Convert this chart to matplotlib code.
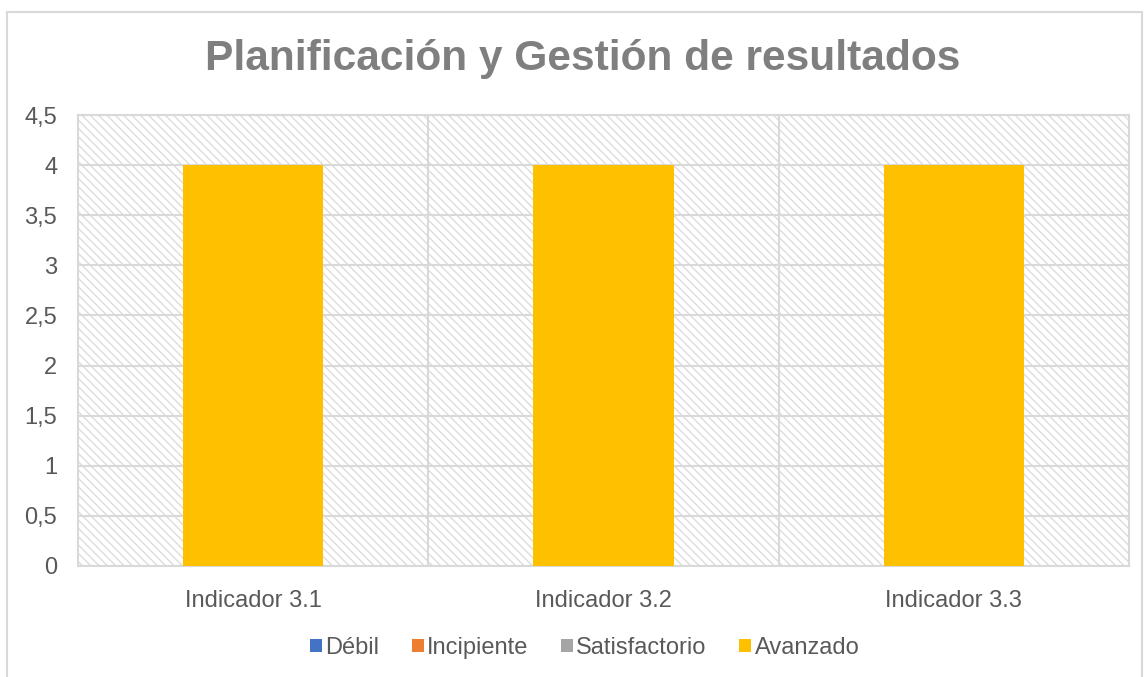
import numpy as np
import matplotlib.pyplot as plt
from matplotlib.patches import Rectangle

plt.rcParams['font.family'] = ['Liberation Sans', 'DejaVu Sans']
plt.rcParams['hatch.color'] = '#d9d9d9'
plt.rcParams['hatch.linewidth'] = 1.0

#%% Data:
categories = ["Indicador 3.1", "Indicador 3.2", "Indicador 3.3"]
series_names = ["Débil", "Incipiente", "Satisfactorio", "Avanzado"]
debil = [0, 0, 0]
incipiente = [0, 0, 0]
satisfactorio = [0, 0, 0]
avanzado = [4, 4, 4]
colors = ["#4472c4", "#ed7d31", "#a5a5a5", "#ffc000"]
yticks = [0, 0.5, 1, 1.5, 2, 2.5, 3, 3.5, 4, 4.5]
ytick_labels = ["0", "0,5", "1", "1,5", "2", "2,5", "3", "3,5", "4", "4,5"]

#%% Figure:
fig = plt.figure(figsize=(11.44, 6.77), dpi=100)
ax = fig.add_axes([0.0682, 0.164, 0.9187, 0.666])

# outer chart frame
fig.patches.append(Rectangle((7/1144, -0.05), 1135/1144, 1.05 - 12/677,
                             transform=fig.transFigure, fill=False,
                             edgecolor='#d9d9d9', linewidth=1.5))

# hatched plot background
ax.add_patch(Rectangle((0, 0), 1, 1, transform=ax.transAxes, facecolor='white',
                       hatch='\\\\\\\\', edgecolor='#dcdcdc', linewidth=0, zorder=0))

x = np.arange(len(categories))
bottom = np.zeros(len(categories))
for name, vals, col in zip(series_names, [debil, incipiente, satisfactorio, avanzado], colors):
    ax.bar(x, vals, width=0.4, bottom=bottom, color=col, label=name, zorder=3)
    bottom += np.array(vals)

ax.set_xlim(-0.5, len(categories) - 0.5)
ax.set_ylim(0, 4.5)
ax.set_yticks(yticks)
ax.set_yticklabels(ytick_labels)
ax.set_xticks(x)
ax.set_xticklabels(categories)
ax.tick_params(axis='both', length=0, labelsize=17, colors='#595959')
ax.tick_params(axis='x', pad=17)
ax.tick_params(axis='y', pad=15)

for yv in yticks:
    ax.axhline(yv, color='#d9d9d9', linewidth=1.5, zorder=1)
for xv in [0.5, 1.5]:
    ax.axvline(xv, color='#d9d9d9', linewidth=1.5, zorder=1)
for s in ax.spines.values():
    s.set_color('#d9d9d9')
    s.set_linewidth(1.5)

fig.suptitle("Planificación y Gestión de resultados", x=0.509, y=0.942,
             fontsize=30.6, fontweight='bold', color='#7f7f7f')

handles, labels = ax.get_legend_handles_labels()
fig.legend(handles, labels, loc='center', bbox_to_anchor=(0.511, 0.043), ncol=4,
           frameon=False, fontsize=17, labelcolor='#595959',
           handlelength=0.5, handleheight=0.5, handletextpad=0.15, columnspacing=1.38)

plt.savefig('out.png', dpi=100)
